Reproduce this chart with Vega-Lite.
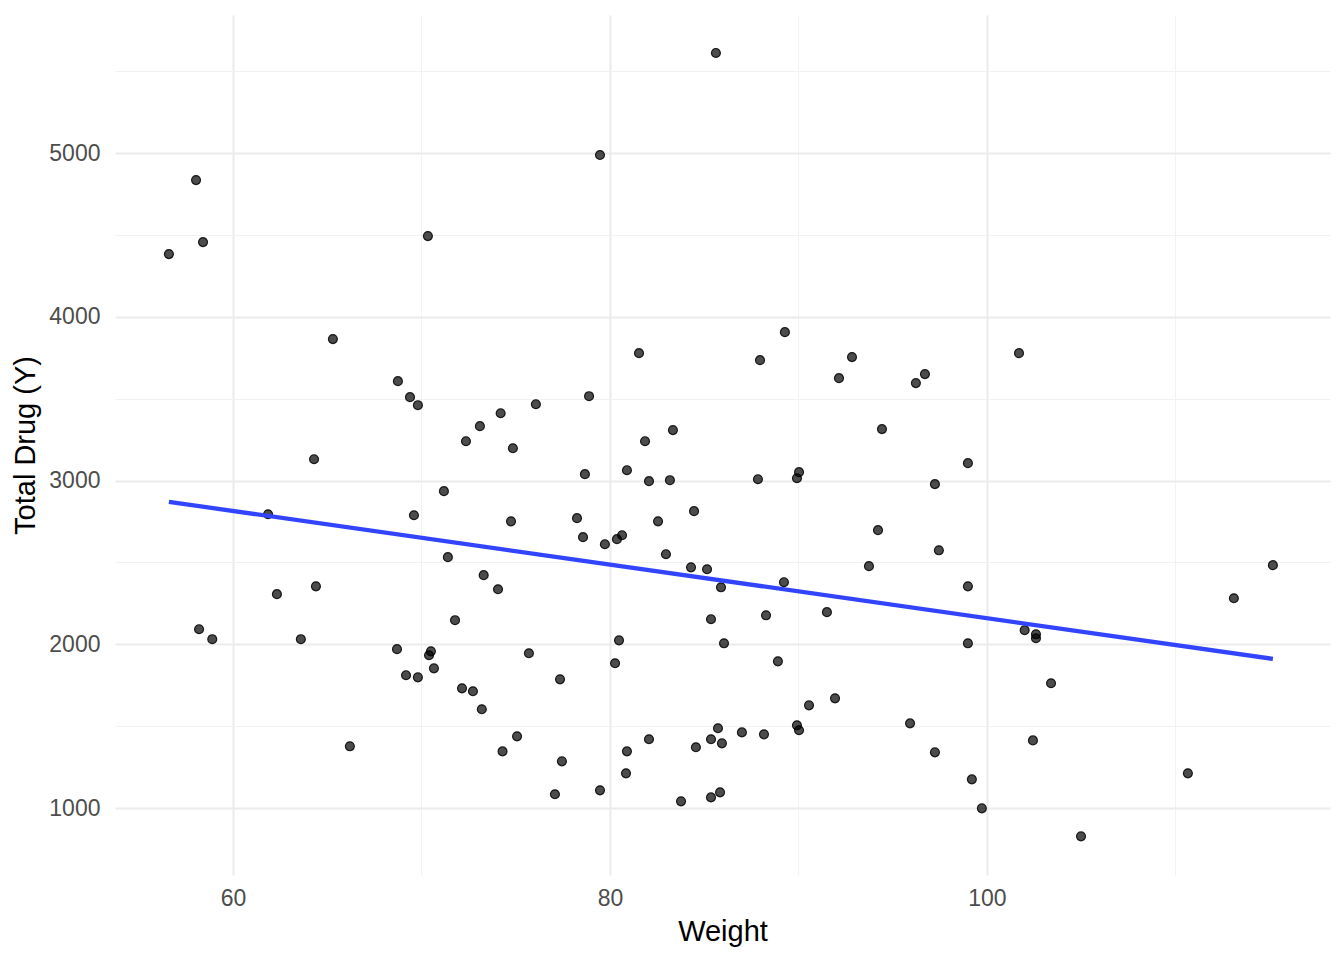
{
  "$schema": "https://vega.github.io/schema/vega-lite/v6.json",
  "width": 1215,
  "height": 860,
  "autosize": {"type": "none"},
  "padding": {"left": 115, "top": 15, "right": 14, "bottom": 85},
  "background": "white",
  "config": {
    "view": {"stroke": null},
    "font": "Liberation Sans",
    "axis": {
      "domain": false,
      "ticks": false,
      "labelFont": "Liberation Sans",
      "labelFontSize": 23,
      "labelColor": "#4D4D4D",
      "titleFont": "Liberation Sans",
      "titleFontSize": 29,
      "titleFontWeight": "normal",
      "titleColor": "black"
    }
  },
  "data": {
    "values": [
      {"Weight": 56.6, "Total": 4383}, {"Weight": 58.04, "Total": 4835}, {"Weight": 58.41, "Total": 4456},
      {"Weight": 58.2, "Total": 2092}, {"Weight": 58.9, "Total": 2031}, {"Weight": 61.86, "Total": 2794},
      {"Weight": 62.33, "Total": 2306}, {"Weight": 64.3, "Total": 3130}, {"Weight": 64.4, "Total": 2354},
      {"Weight": 63.6, "Total": 2031}, {"Weight": 65.3, "Total": 3864}, {"Weight": 66.2, "Total": 1377},
      {"Weight": 68.75, "Total": 3607}, {"Weight": 68.7, "Total": 1970}, {"Weight": 69.18, "Total": 1811},
      {"Weight": 69.39, "Total": 3509}, {"Weight": 69.81, "Total": 3460}, {"Weight": 69.6, "Total": 2788},
      {"Weight": 69.81, "Total": 1798}, {"Weight": 70.34, "Total": 4493}, {"Weight": 70.5, "Total": 1957},
      {"Weight": 70.4, "Total": 1933}, {"Weight": 70.66, "Total": 1853}, {"Weight": 71.19, "Total": 2935},
      {"Weight": 71.4, "Total": 2532}, {"Weight": 71.78, "Total": 2147}, {"Weight": 72.15, "Total": 1731},
      {"Weight": 72.36, "Total": 3240}, {"Weight": 72.73, "Total": 1713}, {"Weight": 73.1, "Total": 3332},
      {"Weight": 73.2, "Total": 1603}, {"Weight": 73.3, "Total": 2422}, {"Weight": 74.06, "Total": 2336},
      {"Weight": 74.2, "Total": 3411}, {"Weight": 74.3, "Total": 1346}, {"Weight": 74.75, "Total": 2751},
      {"Weight": 74.85, "Total": 3197}, {"Weight": 75.07, "Total": 1438}, {"Weight": 75.7, "Total": 1945},
      {"Weight": 76.07, "Total": 3466}, {"Weight": 77.08, "Total": 1084}, {"Weight": 77.35, "Total": 1786},
      {"Weight": 77.45, "Total": 1285}, {"Weight": 78.25, "Total": 2770}, {"Weight": 78.57, "Total": 2654},
      {"Weight": 78.67, "Total": 3039}, {"Weight": 78.89, "Total": 3515}, {"Weight": 79.47, "Total": 4988},
      {"Weight": 79.47, "Total": 1108}, {"Weight": 79.73, "Total": 2611}, {"Weight": 80.27, "Total": 1884},
      {"Weight": 80.37, "Total": 2642}, {"Weight": 80.48, "Total": 2024}, {"Weight": 80.64, "Total": 2666},
      {"Weight": 80.9, "Total": 3063}, {"Weight": 80.9, "Total": 1346}, {"Weight": 80.85, "Total": 1212},
      {"Weight": 81.54, "Total": 3778}, {"Weight": 81.86, "Total": 3240}, {"Weight": 82.07, "Total": 2996},
      {"Weight": 82.07, "Total": 1420}, {"Weight": 82.55, "Total": 2751}, {"Weight": 82.97, "Total": 2550},
      {"Weight": 83.18, "Total": 3002}, {"Weight": 83.34, "Total": 3308}, {"Weight": 83.77, "Total": 1041},
      {"Weight": 84.3, "Total": 2470}, {"Weight": 84.46, "Total": 2813}, {"Weight": 84.56, "Total": 1371},
      {"Weight": 85.15, "Total": 2458}, {"Weight": 85.36, "Total": 2153}, {"Weight": 85.36, "Total": 1420},
      {"Weight": 85.36, "Total": 1065}, {"Weight": 85.62, "Total": 5611}, {"Weight": 85.73, "Total": 1487},
      {"Weight": 85.84, "Total": 1096}, {"Weight": 85.89, "Total": 2348}, {"Weight": 85.94, "Total": 1395},
      {"Weight": 86.05, "Total": 2006}, {"Weight": 87.0, "Total": 1462}, {"Weight": 87.85, "Total": 3008},
      {"Weight": 87.96, "Total": 3735}, {"Weight": 88.17, "Total": 1450}, {"Weight": 88.28, "Total": 2177},
      {"Weight": 88.91, "Total": 1896}, {"Weight": 89.23, "Total": 2379}, {"Weight": 89.28, "Total": 3906},
      {"Weight": 89.92, "Total": 1505}, {"Weight": 90.03, "Total": 1475}, {"Weight": 89.92, "Total": 3014},
      {"Weight": 90.03, "Total": 3051}, {"Weight": 90.56, "Total": 1627}, {"Weight": 91.51, "Total": 2196},
      {"Weight": 91.94, "Total": 1670}, {"Weight": 92.15, "Total": 3625}, {"Weight": 92.84, "Total": 3754},
      {"Weight": 93.74, "Total": 2477}, {"Weight": 94.22, "Total": 2697}, {"Weight": 94.43, "Total": 3314},
      {"Weight": 95.92, "Total": 1517}, {"Weight": 96.23, "Total": 3595}, {"Weight": 96.71, "Total": 3650},
      {"Weight": 97.24, "Total": 2978}, {"Weight": 97.24, "Total": 1340}, {"Weight": 97.45, "Total": 2574},
      {"Weight": 98.99, "Total": 3106}, {"Weight": 98.99, "Total": 2354}, {"Weight": 98.99, "Total": 2006},
      {"Weight": 99.2, "Total": 1175}, {"Weight": 99.73, "Total": 998}, {"Weight": 101.7, "Total": 3778},
      {"Weight": 102.0, "Total": 2086}, {"Weight": 102.6, "Total": 2061}, {"Weight": 102.6, "Total": 2037},
      {"Weight": 102.44, "Total": 1413}, {"Weight": 103.4, "Total": 1762}, {"Weight": 104.99, "Total": 827},
      {"Weight": 110.66, "Total": 1212}, {"Weight": 113.1, "Total": 2281}, {"Weight": 115.17, "Total": 2483}
    ]
  },
  "encoding": {
    "x": {
      "field": "Weight", "type": "quantitative",
      "scale": {"domain": [53.74, 118.2], "nice": false, "zero": false},
      "axis": {
        "title": "Weight",
        "values": [60, 70, 80, 90, 100, 110],
        "labelExpr": "datum.value % 20 == 0 ? datum.label : ''",
        "labelPadding": 12,
        "titlePadding": 7,
        "grid": true,
        "gridColor": {"condition": {"test": "datum.value % 20 == 0", "value": "#EBEBEB"}, "value": "#F2F2F2"},
        "gridWidth": {"condition": {"test": "datum.value % 20 == 0", "value": 2}, "value": 1}
      }
    },
    "y": {
      "field": "Total", "type": "quantitative",
      "scale": {"domain": [591, 5843], "nice": false, "zero": false},
      "axis": {
        "title": "Total Drug (Y)",
        "values": [1000, 1500, 2000, 2500, 3000, 3500, 4000, 4500, 5000, 5500],
        "labelExpr": "datum.value % 1000 == 0 ? datum.label : ''",
        "format": "d",
        "labelPadding": 15,
        "titlePadding": 8,
        "grid": true,
        "gridColor": {"condition": {"test": "datum.value % 1000 == 0", "value": "#EBEBEB"}, "value": "#F2F2F2"},
        "gridWidth": {"condition": {"test": "datum.value % 1000 == 0", "value": 2}, "value": 1}
      }
    }
  },
  "layer": [
    {
      "mark": {"type": "point", "filled": true, "fill": "black", "stroke": "black", "strokeWidth": 1.2, "fillOpacity": 0.7, "strokeOpacity": 0.85, "size": 80, "opacity": 1}
    },
    {
      "transform": [{"regression": "Total", "on": "Weight"}],
      "mark": {"type": "line", "color": "#3344FF", "strokeWidth": 4.3}
    }
  ]
}
